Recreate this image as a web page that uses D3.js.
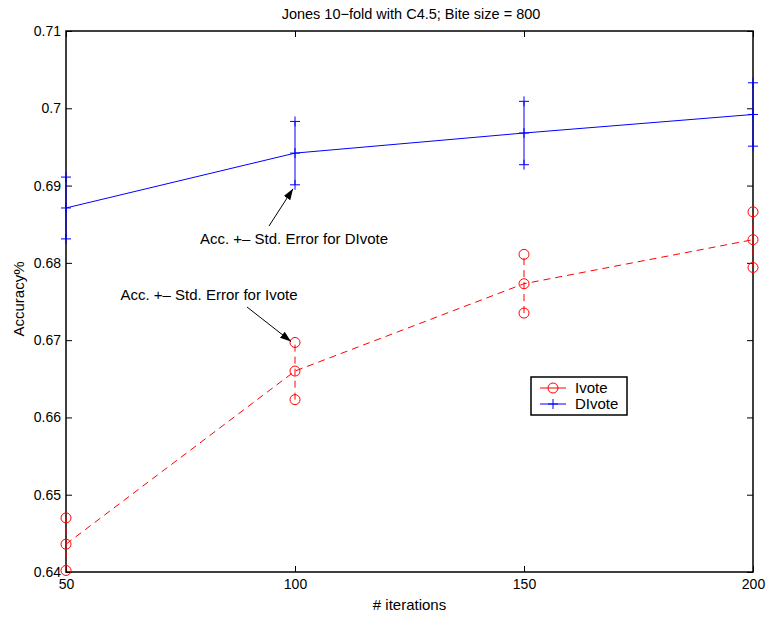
<!DOCTYPE html>
<head>
<meta charset="utf-8">
<title>Jones 10-fold</title>
<script src="https://d3js.org/d3.v7.min.js"></script>
<style>
body { margin: 0; background: #fff; }
svg { font-family: "Liberation Sans", Arial, sans-serif; }
</style>
</head>
<body>
<div id="container"></div>
<script>
// data
const iterations = [50, 100, 150, 200];
const ivoteMean  = [0.6436, 0.6660, 0.6773, 0.6830];
const ivoteErr   = [0.0034, 0.0037, 0.0038, 0.0036];
const divoteMean = [0.6871, 0.6942, 0.6968, 0.6992];
const divoteErr  = [0.0040, 0.0041, 0.0041, 0.0041];
const yTicks = [0.64, 0.65, 0.66, 0.67, 0.68, 0.69, 0.7, 0.71];

const W = 767, H = 618;
const plotL = 66, plotR = 753, plotT = 31, plotB = 572;

const svg = d3.select("#container").append("svg")
    .attr("width", W).attr("height", H);

const x = d3.scaleLinear().domain([50, 200]).range([plotL, plotR]);
const y = d3.scaleLinear().domain([0.64, 0.71]).range([plotB, plotT]);

// ticks on all four sides, pointing inward
const tickLen = 6;
svg.append("g")
  .attr("transform", "translate(0," + plotB + ")")
  .call(d3.axisBottom(x).tickValues(iterations).tickSizeInner(-tickLen).tickSizeOuter(0).tickPadding(7))
  .call(g => g.select(".domain").remove());
svg.append("g")
  .attr("transform", "translate(0," + plotT + ")")
  .call(d3.axisTop(x).tickValues(iterations).tickSizeInner(-tickLen).tickSizeOuter(0).tickFormat(""))
  .call(g => g.select(".domain").remove());
svg.append("g")
  .attr("transform", "translate(" + plotL + ",0)")
  .call(d3.axisLeft(y).tickValues(yTicks).tickSizeInner(-tickLen).tickSizeOuter(0).tickPadding(5).tickFormat(d3.format("")))
  .call(g => g.select(".domain").remove());
svg.append("g")
  .attr("transform", "translate(" + plotR + ",0)")
  .call(d3.axisRight(y).tickValues(yTicks).tickSizeInner(-tickLen).tickSizeOuter(0).tickFormat(""))
  .call(g => g.select(".domain").remove());

svg.selectAll(".tick line").attr("stroke", "#000");
svg.selectAll(".tick text").attr("font-size", 14).attr("fill", "#000")
  .attr("font-family", "Liberation Sans, Arial, sans-serif");

svg.append("rect")
  .attr("x", plotL).attr("y", plotT)
  .attr("width", plotR - plotL).attr("height", plotB - plotT)
  .attr("fill", "none").attr("stroke", "#000").attr("stroke-width", 1.5);

// series
const line = d3.line().x((d, i) => x(iterations[i])).y(d => y(d));

function drawSeries(mean, err, color, dash, marker) {
  const g = svg.append("g");
  g.append("path")
    .attr("d", line(mean))
    .attr("fill", "none").attr("stroke", color)
    .attr("stroke-width", 1).attr("stroke-dasharray", dash);
  mean.forEach((m, i) => {
    const cx = x(iterations[i]);
    g.append("line")
      .attr("x1", cx).attr("x2", cx)
      .attr("y1", y(m - err[i])).attr("y2", y(m + err[i]))
      .attr("stroke", color).attr("stroke-width", 1).attr("stroke-dasharray", dash);
    [m - err[i], m, m + err[i]].forEach(v => marker(g, cx, y(v), color));
  });
}

function circleMarker(g, cx, cy, color) {
  g.append("circle").attr("cx", cx).attr("cy", cy).attr("r", 5)
    .attr("fill", "none").attr("stroke", color).attr("stroke-width", 1);
}
function plusMarker(g, cx, cy, color) {
  g.append("line").attr("x1", cx - 5).attr("x2", cx + 5).attr("y1", cy).attr("y2", cy)
    .attr("stroke", color).attr("stroke-width", 1);
  g.append("line").attr("x1", cx).attr("x2", cx).attr("y1", cy - 5).attr("y2", cy + 5)
    .attr("stroke", color).attr("stroke-width", 1);
}

drawSeries(ivoteMean, ivoteErr, "#ff0000", "7,5", circleMarker);
drawSeries(divoteMean, divoteErr, "#0000ff", null, plusMarker);

// annotations
const defs = svg.append("defs");
defs.append("marker").attr("id", "arrow")
  .attr("viewBox", "0 0 10 10").attr("refX", 10).attr("refY", 5)
  .attr("markerWidth", 11).attr("markerHeight", 11).attr("markerUnits", "userSpaceOnUse")
  .attr("orient", "auto")
  .append("path").attr("d", "M0,1.5 L10,5 L0,8.5 Z").attr("fill", "#000");

svg.append("line")
  .attr("x1", 269).attr("y1", 226)
  .attr("x2", x(100) - 2).attr("y2", y(divoteMean[1] - divoteErr[1]) + 4)
  .attr("stroke", "#000").attr("marker-end", "url(#arrow)");
svg.append("text").attr("x", 294).attr("y", 244)
  .attr("text-anchor", "middle").attr("font-size", 15)
  .text("Acc. +\u2013 Std. Error for DIvote");

svg.append("line")
  .attr("x1", 247).attr("y1", 307)
  .attr("x2", x(100) - 4).attr("y2", y(ivoteMean[1] + ivoteErr[1]) - 1)
  .attr("stroke", "#000").attr("marker-end", "url(#arrow)");
svg.append("text").attr("x", 209).attr("y", 300)
  .attr("text-anchor", "middle").attr("font-size", 15)
  .text("Acc. +\u2013 Std. Error for Ivote");

// legend
const lg = svg.append("g").attr("transform", "translate(531,377)");
lg.append("rect").attr("width", 96).attr("height", 38)
  .attr("fill", "#fff").attr("stroke", "#000").attr("stroke-width", 1.5);
lg.append("line").attr("x1", 9).attr("x2", 35).attr("y1", 11).attr("y2", 11)
  .attr("stroke", "#ff0000");
circleMarker(lg, 22, 11, "#ff0000");
lg.append("text").attr("x", 44).attr("y", 16).attr("font-size", 15).text("Ivote");
lg.append("line").attr("x1", 9).attr("x2", 35).attr("y1", 27).attr("y2", 27)
  .attr("stroke", "#0000ff");
plusMarker(lg, 22, 27, "#0000ff");
lg.append("text").attr("x", 44).attr("y", 32).attr("font-size", 15).text("DIvote");

// titles
svg.append("text").attr("x", 411).attr("y", 19)
  .attr("text-anchor", "middle").attr("font-size", 14.5)
  .text("Jones 10\u2212fold with C4.5; Bite size = 800");
svg.append("text").attr("x", (plotL + plotR) / 2).attr("y", 610)
  .attr("text-anchor", "middle").attr("font-size", 15)
  .text("# iterations");
svg.append("text")
  .attr("transform", "translate(24,299) rotate(-90)")
  .attr("text-anchor", "middle").attr("font-size", 15)
  .text("Accuracy%");
</script>
</body>
